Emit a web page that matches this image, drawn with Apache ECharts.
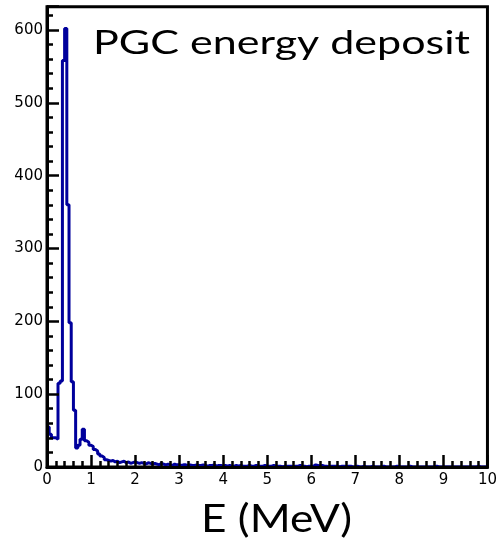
<!DOCTYPE html>
<html>
<head>
<meta charset="utf-8">
<script src="https://cdn.jsdelivr.net/npm/echarts@6/dist/echarts.min.js"></script>
<style>html,body{margin:0;padding:0;background:#fff;}#c{width:500px;height:545px;}</style>
</head>
<body>
<div id="c"></div>
<script>
// Histogram: PGC energy deposit, bin width 0.05 MeV over 0..10 MeV
const xMin = 0, xMax = 10, binWidth = 0.05;
const counts = [
  55, 45, 40, 40, 38, 115, 118, 558, 602, 360,
  198, 117, 78, 26, 30, 38, 52, 36, 34, 30,
  28, 24, 22, 18, 15, 13, 10, 9, 8, 9,
  7, 8, 6, 7, 8, 6, 7, 5, 6, 7,
  6, 5, 6, 5, 4, 6, 5, 4, 5, 4,
  3, 5, 4, 3, 4, 3, 2, 4, 3, 3,
  2, 3, 3, 2, 3, 2, 2, 3, 2, 2,
  3, 2, 1, 2, 2, 3, 1, 2, 2, 1,
  2, 1, 2, 1, 1, 2, 1, 2, 1, 1,
  1, 2, 1, 1, 2, 1, 1, 1, 2, 1,
  1, 1, 2, 1, 1, 1, 0, 1, 1, 1,
  1, 0, 1, 1, 2, 1, 1, 0, 1, 1,
  1, 3, 2, 1, 2, 1, 1, 0, 1, 1,
  1, 1, 0, 1, 1, 0, 1, 1, 0, 0,
  1, 0, 0, 1, 0, 0, 0, 1, 0, 0,
  0, 0, 1, 0, 0, 0, 0, 0, 1, 0,
  0, 0, 0, 0, 1, 0, 0, 0, 0, 0,
  0, 0, 0, 0, 0, 0, 1, 0, 0, 0,
  0, 0, 0, 0, 0, 0, 0, 0, 0, 0,
  0, 0, 0, 0, 0, 1, 0, 0, 0, 0
];
const yMax = 632;
const yMajor = 100, yMinor = 20;
const xMajor = 1, xMinor = 0.2;
const titleText = 'PGC energy deposit';
const xTitleText = 'E (MeV)';

// step outline data: low edge of each bin, plus closing point at the upper limit
const stepData = counts.map((v, i) => [xMin + i * binWidth, v]);
stepData.push([xMax, counts[counts.length - 1]]);

function inkWidth(text, font) {
  const ctx = document.createElement('canvas').getContext('2d');
  ctx.font = font;
  const m = ctx.measureText(text);
  return (m.actualBoundingBoxLeft || 0) + (m.actualBoundingBoxRight || m.width);
}
const titleFont = '32px Lato';
const xTitleFont = '39px Lato';
const titleScale = 375 / inkWidth(titleText, titleFont);
const xTitleScale = 146 / inkWidth(xTitleText, xTitleFont);

const chart = echarts.init(document.getElementById('c'), null, {renderer: 'canvas'});
const axisColor = '#000';
const tickFont = {color: '#000', fontFamily: 'DejaVu Sans', fontSize: 15};
chart.setOption({
  animation: false,
  backgroundColor: '#fff',
  grid: {left: 47, right: 11, top: 6.7, bottom: 78, show: true, borderColor: '#000', borderWidth: 3, backgroundColor: 'transparent'},
  xAxis: [
    {type: 'value', min: xMin, max: xMax, interval: xMajor, position: 'bottom', z: 5,
     axisLine: {show: true, onZero: false, lineStyle: {color: axisColor, width: 3}},
     axisTick: {show: true, inside: true, length: 12, lineStyle: {color: axisColor, width: 2.5}},
     axisLabel: Object.assign({show: true, margin: 6}, tickFont),
     splitLine: {show: false}},
    {type: 'value', min: xMin, max: xMax, interval: xMinor, position: 'bottom', z: 5,
     axisLine: {show: false},
     axisTick: {show: true, inside: true, length: 6, lineStyle: {color: axisColor, width: 2.5}},
     axisLabel: {show: false}, splitLine: {show: false}}
  ],
  yAxis: [
    {type: 'value', min: 0, max: yMax, interval: yMajor, position: 'left', z: 5,
     axisLine: {show: true, onZero: false, lineStyle: {color: axisColor, width: 3}},
     axisTick: {show: true, inside: true, length: 12, lineStyle: {color: axisColor, width: 2.5}},
     axisLabel: Object.assign({show: true, margin: 4,
                 formatter: v => (Math.round(v) % yMajor === 0 ? String(Math.round(v)) : '')}, tickFont),
     splitLine: {show: false}},
    {type: 'value', min: 0, max: yMax, interval: yMinor, position: 'left', offset: 0, z: 5,
     axisLine: {show: false},
     axisTick: {show: true, inside: true, length: 6, lineStyle: {color: axisColor, width: 2.5}},
     axisLabel: {show: false}, splitLine: {show: false}}
  ],
  series: [{
    type: 'line', step: 'end', xAxisIndex: 0, yAxisIndex: 0, z: 2,
    data: stepData, symbol: 'none', showSymbol: false,
    lineStyle: {color: '#00009c', width: 3}
  }],
  graphic: [
    {type: 'text', x: 93, y: 43.5, scaleX: titleScale, z: 10,
     style: {text: titleText, font: titleFont, fill: '#000', textAlign: 'left', textVerticalAlign: 'middle', verticalAlign: 'middle'}},
    {type: 'text', x: 201, y: 519.5, scaleX: xTitleScale, z: 10,
     style: {text: xTitleText, font: xTitleFont, fill: '#000', textAlign: 'left', textVerticalAlign: 'middle', verticalAlign: 'middle'}}
  ]
});
</script>
</body>
</html>
